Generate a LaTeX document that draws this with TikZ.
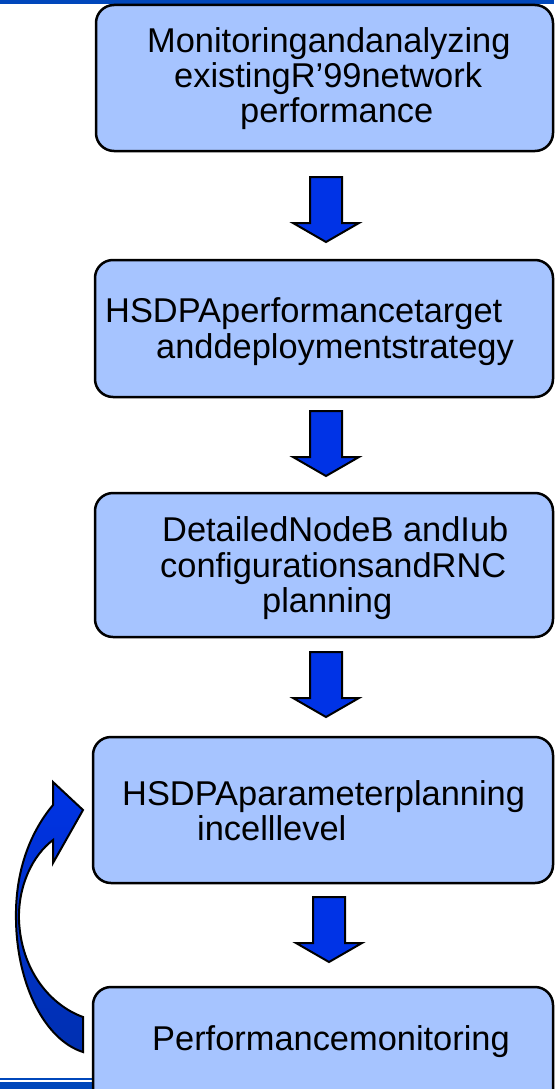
\documentclass[tikz,border=0pt]{standalone}
\usepackage{fontspec}
\setmainfont{Liberation Sans}
\definecolor{boxfill}{RGB}{166,196,255}
\definecolor{arrowblue}{RGB}{0,51,230}
\definecolor{arrowdark}{RGB}{0,48,176}
\definecolor{barblue}{RGB}{0,71,187}
\tikzset{
  stepbox/.style={draw=black, line width=2.5pt, fill=boxfill, rounded corners=18pt, inner sep=0pt},
  label/.style={anchor=base west, inner sep=0pt, font=\fontsize{34.4}{35}\selectfont},
  blockarrow/.style={draw=black, line width=2pt, fill=arrowblue, line join=miter},
  downarrow/.pic={\path[blockarrow] (-16,0) -- (16,0) -- (16,46) -- (33,46) -- (0,65) -- (-33,46) -- (-16,46) -- cycle;}
}
\begin{document}
\begin{tikzpicture}[x=1pt,y=-1pt]
\useasboundingbox (0,0) rectangle (554,1089);
% page rules at top and bottom
\fill[barblue] (0,0) rectangle (554,4);
\fill[barblue] (0,1077.5) rectangle (554,1079.5);
\fill[barblue] (0,1082) rectangle (554,1089);

% process boxes
\node[stepbox, minimum width=457pt, minimum height=146pt] (b1) at (324.5,78) {};
\node[stepbox, minimum width=458pt, minimum height=137pt] (b2) at (324,328.5) {};
\node[stepbox, minimum width=458pt, minimum height=144pt] (b3) at (324,565) {};
\node[stepbox, minimum width=460pt, minimum height=146pt] (b4) at (323,810) {};
\node[stepbox, minimum width=460pt, minimum height=130pt] (b5) at (323,1052) {};

% box texts
\node[label] (t1a) at (147,53) {Monitoringandanalyzing};
\node[label] (t1b) at (174,88) {existingR’99network};
\node[label] (t1c) at (240,123) {performance};
\node[label] (t2a) at (105,322) {HSDPAperformancetarget};
\node[label] (t2b) at (156,358) {anddeploymentstrategy};
\node[label] (t3a) at (162,541) {DetailedNodeB andIub};
\node[label] (t3b) at (160,577) {configurationsandRNC};
\node[label] (t3c) at (262,612) {planning};
\node[label] (t4a) at (122,805) {HSDPAparameterplanning};
\node[label] (t4b) at (197,840) {incelllevel};
\node[label] (t5a) at (152,1050) {Performancemonitoring};

% downward flow arrows between boxes
\pic (a1) at (326,177) {downarrow};
\pic (a2) at (326,411) {downarrow};
\pic (a3) at (326,652) {downarrow};
\pic (a4) at (329,897) {downarrow};

% feedback arrow from the last box back to the parameter planning box
\path[draw=black, line width=2pt, line join=miter, top color=arrowblue, bottom color=arrowdark]
  (53,805) .. controls (28,835) and (15,875) .. (16,920)
  .. controls (17,985) and (45,1040) .. (83,1052)
  -- (83,1017)
  .. controls (50,1005) and (21,970) .. (19,920)
  .. controls (18,885) and (33,855) .. (53,840)
  -- (53,863) -- (83,810) -- (53,782) -- cycle;
\end{tikzpicture}
\end{document}
